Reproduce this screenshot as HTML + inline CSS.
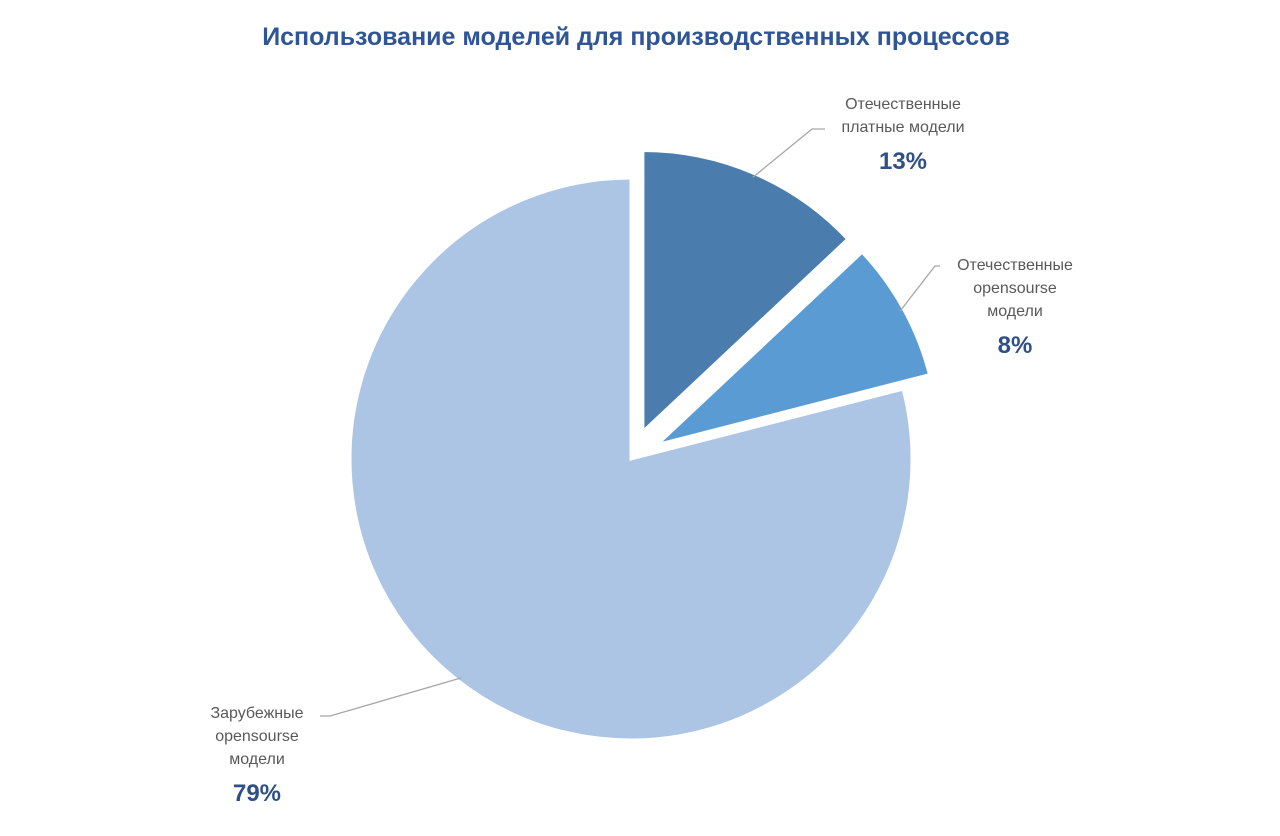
<!DOCTYPE html>
<html><head><meta charset="utf-8"><style>
body{margin:0;background:#fff;width:1280px;height:831px;overflow:hidden;font-family:"Liberation Sans","Noto Sans CJK SC",sans-serif}
</style></head><body>
<svg id="chart" width="1280" height="831" xmlns="http://www.w3.org/2000/svg">
<text x="636" y="45" text-anchor="middle" font-size="25" font-weight="bold" fill="#2f5597" font-family="Liberation Sans, sans-serif">Использование моделей для производственных процессов</text>
<g id="slices"></g>
<g id="labels"></g>
</svg>
<script>
const categories=["Отечественные платные модели","Отечественные opensourse модели","Зарубежные opensourse модели"];
const values=[13,8,79];
const valueLabels=["13%","8%","79%"];
const cx=631,cy=459,r=281;
const colors=["#4a7dae","#5b9bd4","#adc5e4"];
const explode=[30,30,0];
const ns="http://www.w3.org/2000/svg";
const total=values.reduce((a,b)=>a+b,0);
const sg=document.getElementById('slices');
let a0=0;
const mids=[];
values.forEach((v,i)=>{
 const a1=a0+v/total*2*Math.PI, am=(a0+a1)/2;
 mids.push(am);
 const ox=explode[i]*Math.sin(am), oy=-explode[i]*Math.cos(am);
 const x0=cx+ox+r*Math.sin(a0), y0=cy+oy-r*Math.cos(a0);
 const x1=cx+ox+r*Math.sin(a1), y1=cy+oy-r*Math.cos(a1);
 const p=document.createElementNS(ns,'path');
 p.setAttribute('d',`M${cx+ox},${cy+oy}L${x0},${y0}A${r},${r} 0 ${a1-a0>Math.PI?1:0} 1 ${x1},${y1}Z`);
 p.setAttribute('fill',colors[i]);
 p.setAttribute('stroke','#fff');p.setAttribute('stroke-width','3');
 
 
 sg.appendChild(p);
 a0=a1;
});
const lg=document.getElementById('labels');
const labelDefs=[
 {x:903,lines:["Отечественные","платные модели"],y:109,line:[[0,812,129],[1,825,129]]},
 {x:1015,lines:["Отечественные","opensourse","модели"],y:270,line:[[1,935,266],[1,940,266]]},
 {x:257,lines:["Зарубежные","opensourse","модели"],y:718,line:[[1,330,716],[1,320,716]]}
];
labelDefs.forEach((d,i)=>{
 const am=mids[i];
 const ox=explode[i]*Math.sin(am), oy=-explode[i]*Math.cos(am);
 const ex=cx+ox+(r-4)*Math.sin(am), ey=cy+oy-(r-4)*Math.cos(am);
 const pl=document.createElementNS(ns,'polyline');
 pl.setAttribute('points',`${ex},${ey} ${d.line[0][1]},${d.line[0][2]} ${d.line[1][1]},${d.line[1][2]}`);
 pl.setAttribute('fill','none');pl.setAttribute('stroke','#a6a6a6');pl.setAttribute('stroke-width','1.3');
 
 
 lg.appendChild(pl);
 const t=document.createElementNS(ns,'text');
 t.setAttribute('text-anchor','middle');t.setAttribute('font-size','16');t.setAttribute('fill','#595959');
 
 
 d.lines.forEach((s,k)=>{const ts=document.createElementNS(ns,'tspan');ts.setAttribute('x',d.x);ts.setAttribute('y',d.y+k*23);ts.textContent=s;t.appendChild(ts);});
 lg.appendChild(t);
 const pt=document.createElementNS(ns,'text');
 pt.setAttribute('text-anchor','middle');pt.setAttribute('font-size','24');pt.setAttribute('font-weight','bold');pt.setAttribute('fill','#2f4f87');
 pt.setAttribute('x',d.x);pt.setAttribute('y',d.y+d.lines.length*23+14);
 
 
 pt.textContent=valueLabels[i];
 lg.appendChild(pt);
});
</script>
</body></html>
